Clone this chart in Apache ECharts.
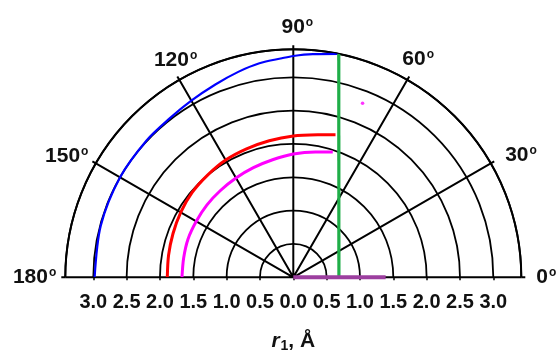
<!DOCTYPE html>
<html>
<head>
<meta charset="utf-8">
<script src="https://cdn.jsdelivr.net/npm/echarts@6/dist/echarts.min.js"></script>
<style>
html,body{margin:0;padding:0;background:#fff;}
#chart{width:557px;height:353px;}
</style>
</head>
<body>
<div id="chart"></div>
<script>
// ---- data ----
const angleTicks = [0, 30, 60, 90, 120, 150, 180];
const radiusTickLabels = [-3, -2.5, -2, -1.5, -1, -0.5, 0, 0.5, 1, 1.5, 2, 2.5, 3];
const radiusMax = 3.42;

const blueTheta = [180, 165, 150, 137, 128, 120, 112, 105, 99, 93, 90, 85, 78.5];
const blueR     = [2.98, 2.99, 3.0, 3.01, 3.02, 3.06, 3.12, 3.19, 3.25, 3.29, 3.32, 3.36, 3.42];

const redTheta = [180, 170, 160, 150, 140, 130, 120, 110, 100, 90, 80, 73.5];
const redR     = [1.89, 1.9, 1.92, 1.95, 1.98, 2.0, 2.03, 2.05, 2.08, 2.12, 2.17, 2.23];

const magTheta = [180, 170, 160, 150, 140, 130, 120, 110, 100, 90, 80, 72.5];
const magR     = [1.67, 1.67, 1.68, 1.68, 1.69, 1.7, 1.72, 1.75, 1.79, 1.85, 1.91, 1.97];

const magDotTheta = [68.3];
const magDotR     = [2.81];

const greenTheta = [0, 78.5];
const greenR     = [0.684, 3.42];

// purple segment along the 0° baseline (x in Å, y in Å)
const purpleX = [0, 1.385];
const purpleY = [0, 0];

function pairs(a, b) { return a.map((v, i) => [v, b[i]]); }

// ---- styles / layout ----
const FONT = "'Liberation Sans', Arial, sans-serif";
const CX = 293.3, CY = 277.3, RPX = 228;
const pxPerUnit = RPX / radiusMax;
const INK = '#111';

// fine label nudges [dx, dy] in px (style only)
const labelNudge = {0: [3, 0], 30: [4, 8], 60: [-11, 0], 90: [4, 0], 120: [24, 1], 150: [3, 9], 180: [3, 0]};
// ECharts' own alignment of angle labels for a half circle
function hAlign(a) { return a < 75 ? 'left' : (a > 105 ? 'right' : 'center'); }
function vAlign(a) { return (a < 15 || a > 165) ? 'middle' : 'bottom'; }

const rich = {};
angleTicks.forEach(a => {
  const [dx, dy] = labelNudge[a] || [0, 0];
  const nP = [0, 0, 0, 0], oP = [0, 0, 9, 1];
  const h = hAlign(a), v = vAlign(a);
  if (h === 'left') nP[3] += dx;
  else if (h === 'right') oP[1] -= dx;
  else nP[3] += 2 * dx;
  if (v === 'bottom') { nP[2] -= dy; oP[2] -= dy; }
  else { nP[0] += 2 * dy; }
  rich['n' + a] = { fontSize: 21, fontWeight: 'bold', fontFamily: FONT, color: INK, padding: nP };
  rich['o' + a] = { fontSize: 12, fontWeight: 'bold', fontFamily: FONT, color: INK, padding: oP };
});

const chart = echarts.init(document.getElementById('chart'), null, {renderer: 'canvas'});
chart.setOption({
  animation: false,
  backgroundColor: '#fff',
  polar: { center: [CX, CY], radius: RPX },
  angleAxis: {
    type: 'value', min: angleTicks[0], max: angleTicks[angleTicks.length - 1], interval: 30,
    startAngle: 0, endAngle: 180, clockwise: false,
    axisLine: { show: true, lineStyle: { color: '#000', width: 2 } },
    axisTick: { show: true, length: 4, lineStyle: { color: '#000', width: 2 } },
    splitLine: { show: true, lineStyle: { color: '#000', width: 2 } },
    axisLabel: {
      show: true, margin: 12, color: INK,
      formatter: v => '{n' + v + '|' + v + '}{o' + v + '|o}',
      rich: rich
    }
  },
  radiusAxis: {
    type: 'value', min: 0, max: radiusMax, interval: 0.5,
    axisLine: { show: false }, axisTick: { show: false }, axisLabel: { show: false },
    splitLine: { show: true, lineStyle: { color: '#000', width: 1.8 } }
  },
  grid: {
    left: CX - 3 * pxPerUnit, width: 6 * pxPerUnit,
    top: CY - RPX, height: RPX, outerBoundsMode: 'none', containLabel: false
  },
  xAxis: {
    type: 'value', min: radiusTickLabels[0], max: radiusTickLabels[radiusTickLabels.length - 1], interval: 0.5,
    axisLine: { show: false },
    axisTick: { show: true, length: 3, inside: false, lineStyle: { color: '#000', width: 1.5 } },
    splitLine: { show: false },
    axisLabel: {
      margin: 15, color: INK, fontSize: 20, fontWeight: 'bold', fontFamily: FONT,
      formatter: v => Math.abs(v).toFixed(1)
    },
    name: '{i|r}{b|1}{n|, Å}',
    nameLocation: 'middle', nameGap: 52,
    nameTextStyle: {
      rich: {
        i: { fontSize: 21, fontWeight: 'bold', fontStyle: 'italic', fontFamily: FONT, color: INK },
        b: { fontSize: 14, fontWeight: 'bold', fontFamily: FONT, color: INK, padding: [10, 0, 0, 1] },
        n: { fontSize: 21, fontWeight: 'bold', fontFamily: FONT, color: INK }
      }
    }
  },
  yAxis: { type: 'value', show: false, min: 0, max: radiusMax, splitLine: { show: false } },
  series: [
    { type: 'line', coordinateSystem: 'cartesian2d', data: pairs(purpleX, purpleY), symbol: 'none', clip: false,
      lineStyle: { color: '#9c3f9f', width: 4 }, z: 6 },
    { type: 'line', coordinateSystem: 'polar', data: pairs(blueR, blueTheta), symbol: 'none', smooth: 0.3, clip: false,
      lineStyle: { color: '#0000ff', width: 2.2 }, z: 4 },
    { type: 'line', coordinateSystem: 'polar', data: pairs(redR, redTheta), symbol: 'none', smooth: 0.3, clip: false,
      lineStyle: { color: '#ff0000', width: 3 }, z: 4 },
    { type: 'line', coordinateSystem: 'polar', data: pairs(magR, magTheta), symbol: 'none', smooth: 0.3, clip: false,
      lineStyle: { color: '#ff00ff', width: 3 }, z: 4 },
    { type: 'scatter', coordinateSystem: 'polar', data: pairs(magDotR, magDotTheta), symbolSize: 3.5,
      itemStyle: { color: '#ff00ff' }, z: 4 },
    { type: 'line', coordinateSystem: 'polar', data: pairs(greenR, greenTheta), symbol: 'none', clip: false,
      lineStyle: { color: '#1fae48', width: 3.2 }, z: 5 }
  ]
});
</script>
</body>
</html>
